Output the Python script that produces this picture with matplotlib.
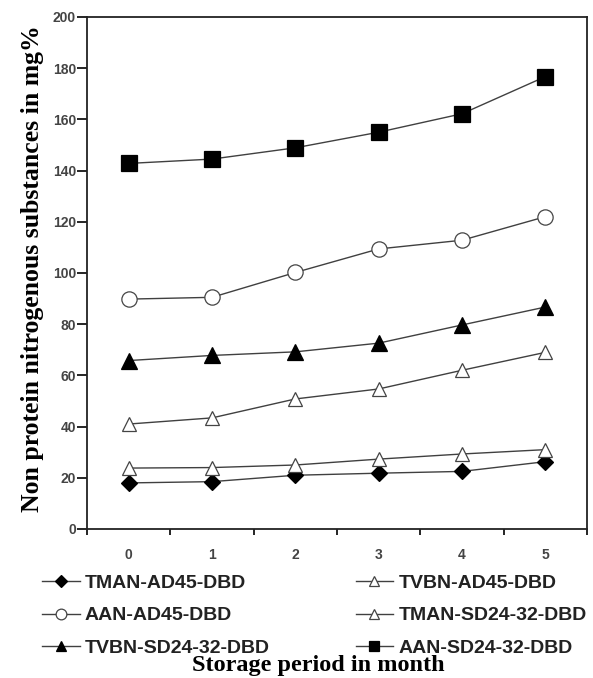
import numpy as np
import matplotlib.pyplot as plt

months = [0, 1, 2, 3, 4, 5]

tman_ad45 = [18, 18.5, 21, 21.8, 22.5, 26.3]
tvbn_ad45 = [41, 43.4, 50.8, 54.7, 62, 69]
aan_ad45 = [89.8, 90.5, 100.2, 109.4, 112.8, 122]
tman_sd = [23.8, 24, 25, 27.3, 29.3, 31]
tvbn_sd = [65.8, 67.8, 69.2, 72.6, 79.7, 86.7]
aan_sd = [142.8, 144.5, 148.9, 155, 162.2, 176.7]

labels = ['TMAN-AD45-DBD', 'TVBN-AD45-DBD', 'AAN-AD45-DBD',
          'TMAN-SD24-32-DBD', 'TVBN-SD24-32-DBD', 'AAN-SD24-32-DBD']

line_col = '#404040'

fig = plt.figure(figsize=(5.93, 6.78), dpi=100)
ax = fig.add_axes([87/593, 1 - 529/678, 500/593, 512/678])

x = np.arange(len(months))
styles = [
    (tman_ad45, 'D', 'black', 8.5),
    (tvbn_ad45, '^', 'white', 10.5),
    (aan_ad45, 'o', 'white', 11),
    (tman_sd, '^', 'white', 10.5),
    (tvbn_sd, '^', 'black', 11),
    (aan_sd, 's', 'black', 11),
]
handles = []
for (vals, mk, fc, ms), lab in zip(styles, labels):
    h, = ax.plot(x, vals, color=line_col, lw=1.0, marker=mk, ms=ms,
                 mfc=fc, mec='black' if fc == 'black' else '#444444',
                 mew=0.9, label=lab)
    handles.append(h)

ax.set_xlim(-0.5, 5.5)
ax.set_ylim(0, 200)
ax.set_yticks(np.arange(0, 201, 20))
# ticks between categories, labels at the categories
ax.set_xticks(np.arange(-0.5, 5.6, 1))
ax.set_xticklabels([])
ax.set_xticks(x, minor=True)
ax.set_xticklabels([str(m) for m in months], minor=True)
ax.tick_params(axis='x', which='major', direction='out', length=4, width=1.2)
ax.tick_params(axis='x', which='minor', length=0, pad=14)
ax.tick_params(axis='y', direction='out', length=7, width=1.2, pad=1)
for lab in ax.get_yticklabels() + ax.get_xticklabels(minor=True):
    lab.set_family('Liberation Sans')
    lab.set_fontweight('bold')
    lab.set_fontsize(10)
    lab.set_color('#444444')
for sp in ax.spines.values():
    sp.set_linewidth(1.3)
    sp.set_color('#222222')

fig.text(33/593, 1 - 269/678, 'Non protein nitrogenous substances in mg%',
         rotation=90, ha='center', va='center',
         family='Liberation Serif', fontweight='bold', fontsize=18.5)
fig.text(318/593, 2/678, 'Storage period in month', ha='center', va='bottom',
         family='Liberation Serif', fontweight='bold', fontsize=17.5)

order = [0, 2, 4, 1, 3, 5]
leg = fig.legend([handles[i] for i in order], [labels[i] for i in order],
                 ncol=2, loc='upper left', bbox_to_anchor=(42/593, 1 - 574/678),
                 frameon=False, handlelength=1.95, handletextpad=0.26,
                 columnspacing=4.4, labelspacing=0.78, markerscale=0.7,
                 borderpad=0, borderaxespad=0,
                 prop={'family': 'Liberation Sans', 'weight': 'bold', 'size': 14})
for t in leg.get_texts():
    t.set_color('#222222')

fig.savefig('out.png', dpi=100)
